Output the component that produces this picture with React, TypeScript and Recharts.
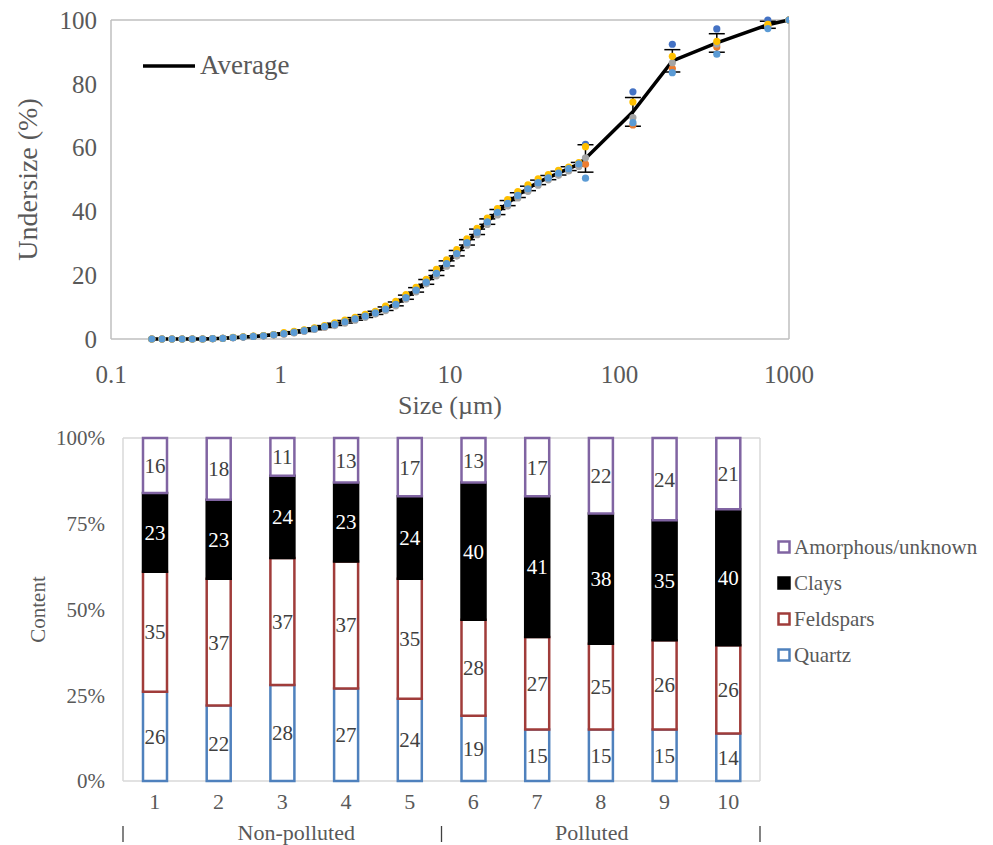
import React from "react";
import {
  ComposedChart,
  Line,
  ErrorBar,
  XAxis,
  YAxis,
  CartesianGrid,
  Legend,
  BarChart,
  Bar,
  LabelList,
} from "recharts";

const serif = "'Liberation Serif', 'Times New Roman', serif";
const textGray = "#595959";

// particle size distribution (µm, % undersize)
const sizes = [
  0.174, 0.2, 0.229, 0.263, 0.302, 0.347, 0.398, 0.457, 0.525, 0.603, 0.692, 0.794, 0.912, 1.047, 1.202, 1.38,
  1.585, 1.82, 2.089, 2.399, 2.754, 3.162, 3.631, 4.169, 4.786, 5.495, 6.31, 7.244, 8.318, 9.55, 10.96, 12.59,
  14.45, 16.6, 19.05, 21.88, 25.12, 28.84, 33.11, 38.02, 43.65, 50.12, 57.54, 63, 120, 205, 375, 750, 1000,
];
const average = [
  0, 0, 0, 0, 0, 0, 0.1, 0.2, 0.4, 0.6, 0.8, 1.0, 1.3, 1.7, 2.1, 2.6, 3.2, 3.9, 4.6, 5.4, 6.3, 7.2, 8.2, 9.5, 11.0,
  13.1, 15.4, 17.9, 20.7, 23.7, 26.9, 30.3, 33.6, 36.8, 39.8, 42.6, 45.1, 47.2, 49.1, 50.6, 52.0, 53.4, 54.8,
  56.6, 71.2, 87.2, 92.8, 98.5, 100,
];
const stdDev = [
  0, 0, 0, 0, 0, 0, 0.05, 0.05, 0.1, 0.1, 0.1, 0.1, 0.15, 0.2, 0.2, 0.25, 0.3, 0.3, 0.35, 0.4, 0.4, 0.45, 0.5, 0.55,
  0.6, 0.65, 0.7, 0.75, 0.8, 0.8, 0.85, 0.85, 0.85, 0.85, 0.8, 0.8, 0.75, 0.7, 0.7, 0.65, 0.6, 0.6, 0.55,
  4.3, 4.5, 3.5, 2.9, 1.1, 0,
];
const sample1 = [
  0, 0, 0, 0, 0, 0, 0.1, 0.2, 0.4, 0.6, 0.8, 1.0, 1.3, 1.7, 2.2, 2.7, 3.3, 4.0, 4.8, 5.6, 6.5, 7.4, 8.4, 9.7, 11.2,
  13.3, 15.6, 18.1, 20.9, 23.9, 27.1, 30.5, 33.8, 37.0, 40.0, 42.8, 45.3, 47.4, 49.3, 50.7, 52.1, 53.5, 55.0,
  61.0, 77.5, 92.4, 97.2, 100, 100,
];
const sample2 = [
  0, 0, 0, 0, 0, 0, 0.1, 0.2, 0.4, 0.6, 0.8, 1.0, 1.3, 1.6, 2.0, 2.5, 3.1, 3.8, 4.5, 5.3, 6.2, 7.1, 8.0, 9.3, 10.8,
  12.9, 15.2, 17.7, 20.5, 23.5, 26.7, 30.1, 33.4, 36.6, 39.6, 42.4, 44.9, 47.0, 48.9, 50.4, 51.8, 53.2, 54.6,
  54.8, 67.1, 84.8, 91.5, 98.2, 100,
];
const sample3 = [
  0, 0, 0, 0, 0, 0, 0.1, 0.2, 0.4, 0.6, 0.8, 1.0, 1.3, 1.5, 1.9, 2.4, 3.0, 3.7, 4.2, 5.0, 5.9, 6.8, 7.8, 8.9, 10.4,
  12.5, 14.8, 17.3, 19.8, 22.8, 26.0, 29.4, 32.7, 35.9, 38.9, 41.7, 44.2, 46.3, 48.2, 49.9, 51.3, 52.7, 54.1,
  56.8, 69.4, 86.6, 92.5, 98.2, 100,
];
const sample4 = [
  0, 0, 0, 0, 0, 0, 0.1, 0.2, 0.5, 0.7, 0.9, 1.1, 1.4, 2.0, 2.4, 2.9, 3.5, 4.2, 5.1, 5.9, 6.8, 7.7, 8.7, 10.3, 11.8,
  13.9, 16.2, 18.7, 21.8, 24.8, 28.0, 31.4, 34.7, 37.9, 40.9, 43.7, 46.2, 48.3, 50.2, 51.5, 52.9, 53.9, 55.3,
  60.3, 74.3, 88.6, 93.3, 98.6, 100,
];
const sample5 = [
  0, 0, 0, 0, 0, 0, 0.1, 0.2, 0.4, 0.6, 0.8, 1.0, 1.3, 1.7, 2.1, 2.6, 3.2, 3.9, 4.6, 5.4, 6.3, 7.2, 8.2, 9.4, 10.9,
  13.0, 15.3, 17.8, 20.6, 23.6, 26.8, 30.2, 33.5, 36.7, 39.7, 42.5, 45.0, 47.1, 49.0, 50.5, 52.0, 53.4, 54.9,
  50.4, 67.8, 83.5, 89.3, 97.3, 100,
];
const sizeTicks = [0.1, 1, 10, 100, 1000];
const undersizeTicks = [0, 20, 40, 60, 80, 100];

// mineral composition per site (%)
const sites = ["1", "2", "3", "4", "5", "6", "7", "8", "9", "10"];
const quartz = [26, 22, 28, 27, 24, 19, 15, 15, 15, 14];
const feldspars = [35, 37, 37, 37, 35, 28, 27, 25, 26, 26];
const clays = [23, 23, 24, 23, 24, 40, 41, 38, 35, 40];
const amorphous = [16, 18, 11, 13, 17, 13, 17, 22, 24, 21];
const contentTicks = [0, 0.25, 0.5, 0.75, 1];
const groups = [
  { name: "Non-polluted", first: 0, last: 4 },
  { name: "Polluted", first: 5, last: 9 },
];

const psd = sizes.map((size, i) => ({
  size,
  avg: average[i],
  err: stdDev[i],
  s1: sample1[i],
  s2: sample2[i],
  s3: sample3[i],
  s4: sample4[i],
  s5: sample5[i],
}));

const minerals = sites.map((site, i) => ({
  site,
  quartz: quartz[i],
  feldspars: feldspars[i],
  clays: clays[i],
  amorphous: amorphous[i],
}));

const sampleSeries = [
  { key: "s1", color: "#4472C4" },
  { key: "s2", color: "#ED7D31" },
  { key: "s3", color: "#A5A5A5" },
  { key: "s4", color: "#FFC000" },
  { key: "s5", color: "#5B9BD5" },
];

const mineralSeries = [
  { key: "quartz", name: "Quartz", fill: "#fff", stroke: "#4F81BD", text: "#404040" },
  { key: "feldspars", name: "Feldspars", fill: "#fff", stroke: "#A03C3A", text: "#404040" },
  { key: "clays", name: "Clays", fill: "#000", stroke: "#000", text: "#fff" },
  { key: "amorphous", name: "Amorphous/unknown", fill: "#fff", stroke: "#8064A2", text: "#404040" },
];

const frame = {
  horizontalCoordinatesGenerator: ({ offset }: any) => [offset.top, offset.top + offset.height],
  verticalCoordinatesGenerator: ({ offset }: any) => [offset.left, offset.left + offset.width],
};

const band = 63.7;
const groupShift = [14, -9];

function SiteTick(props: any) {
  const { x, y, payload, index } = props;
  const marks: React.ReactNode[] = [];
  const sep = (sx: number, k: string) => (
    <line key={k} x1={sx} x2={sx} y1={y + 37} y2={y + 53} stroke="#404040" strokeWidth={1.3} />
  );
  groups.forEach((g, gi) => {
    if (index === g.first) {
      marks.push(sep(x - band / 2, "l" + gi));
      marks.push(
        <text
          key={"g" + gi}
          x={x + ((g.last - g.first) * band) / 2 + groupShift[gi]}
          y={y + 51}
          textAnchor="middle"
          fontSize={22}
          fill={textGray}
          fontFamily={serif}
        >
          {g.name}
        </text>
      );
    }
    if (index === g.last && gi === groups.length - 1) marks.push(sep(x + band / 2, "r" + gi));
  });
  return (
    <g>
      <text x={x} y={y + 20} textAnchor="middle" fontSize={22} fill={textGray} fontFamily={serif}>
        {payload.value}
      </text>
      {marks}
    </g>
  );
}

function AverageLegend() {
  return (
    <div style={{ display: "flex", alignItems: "center", fontFamily: serif, fontSize: 27, color: textGray }}>
      <svg width={57} height={10}>
        <line x1={0} x2={52} y1={5} y2={5} stroke="#000" strokeWidth={3.5} />
      </svg>
      <span>Average</span>
    </div>
  );
}

function MineralLegend() {
  return (
    <div style={{ fontFamily: serif, fontSize: 21, color: textGray }}>
      {[...mineralSeries].reverse().map((s) => (
        <div key={s.key} style={{ display: "flex", alignItems: "center", height: 36 }}>
          <svg width={17} height={14}>
            <rect x={1.5} y={1.5} width={11} height={11} fill={s.fill} stroke={s.stroke} strokeWidth={2.5} />
          </svg>
          <span>{s.name}</span>
        </div>
      ))}
    </div>
  );
}

export default function App() {
  return (
    <div
      style={{
        position: "absolute",
        left: 0,
        top: 0,
        width: 993,
        height: 845,
        background: "#fff",
        fontFamily: serif,
      }}
    >
      <div style={{ position: "absolute", left: 0, top: 0 }}>
        <ComposedChart width={993} height={420} data={psd} margin={{ top: 20, right: 204, bottom: 0, left: 0 }}>
          <CartesianGrid stroke="#bfbfbf" strokeWidth={1.5} {...frame} />
          <XAxis
            dataKey="size"
            type="number"
            scale="log"
            domain={[0.1, 1000]}
            ticks={sizeTicks}
            allowDataOverflow
            height={81}
            axisLine={false}
            tickLine={false}
            tickMargin={20}
            tick={{ fontSize: 25, fill: textGray, fontFamily: serif }}
            label={{ value: "Size (µm)", position: "insideBottom", offset: 6, fontSize: 26, fill: textGray }}
          />
          <YAxis
            type="number"
            domain={[0, 100]}
            ticks={undersizeTicks}
            width={111}
            axisLine={false}
            tickLine={false}
            tickMargin={8}
            tick={{ fontSize: 25, fill: textGray, fontFamily: serif }}
            label={{ value: "Undersize (%)", angle: -90, position: "center", dx: -28, fontSize: 28, fill: textGray }}
          />
          <Legend
            layout="horizontal"
            verticalAlign="middle"
            align="center"
            content={() => <AverageLegend />}
            wrapperStyle={{ left: 143, top: 50, width: 200 }}
          />
          <Line
            dataKey="avg"
            type="linear"
            stroke="#000"
            strokeWidth={3.5}
            dot={false}
            activeDot={false}
            isAnimationActive={false}
          >
            <ErrorBar dataKey="err" direction="y" width={8} stroke="#000" strokeWidth={1.5} />
          </Line>
          {sampleSeries.map((s) => (
            <Line
              key={s.key}
              dataKey={s.key}
              stroke="none"
              dot={{ r: 3.6, fill: s.color, stroke: "none" }}
              activeDot={false}
              isAnimationActive={false}
            />
          ))}
        </ComposedChart>
      </div>
      <div style={{ position: "absolute", left: 0, top: 420 }}>
        <BarChart
          width={993}
          height={425}
          data={minerals}
          stackOffset="expand"
          margin={{ top: 18, right: 233, bottom: 0, left: 0 }}
        >
          <CartesianGrid stroke="#d9d9d9" strokeWidth={1.5} {...frame} />
          <XAxis dataKey="site" height={64} axisLine={false} tickLine={false} tick={<SiteTick />} interval={0} />
          <YAxis
            type="number"
            domain={[0, 1]}
            ticks={contentTicks}
            tickFormatter={(v: number) => `${Math.round(v * 100)}%`}
            width={123}
            axisLine={false}
            tickLine={false}
            tickMargin={12}
            tick={{ fontSize: 21, fill: textGray, fontFamily: serif }}
            label={{ value: "Content", angle: -90, position: "center", dx: -24, fontSize: 21, fill: textGray }}
          />
          <Legend
            layout="horizontal"
            verticalAlign="middle"
            align="center"
            content={() => <MineralLegend />}
            wrapperStyle={{ left: 777, top: 109, width: 216 }}
          />
          {mineralSeries.map((s) => (
            <Bar
              key={s.key}
              dataKey={s.key}
              name={s.name}
              stackId="m"
              barSize={24}
              fill={s.fill}
              stroke={s.stroke}
              strokeWidth={2.5}
              isAnimationActive={false}
            >
              <LabelList dataKey={s.key} position="center" fill={s.text} fontSize={21} fontFamily={serif} />
            </Bar>
          ))}
        </BarChart>
      </div>
    </div>
  );
}
